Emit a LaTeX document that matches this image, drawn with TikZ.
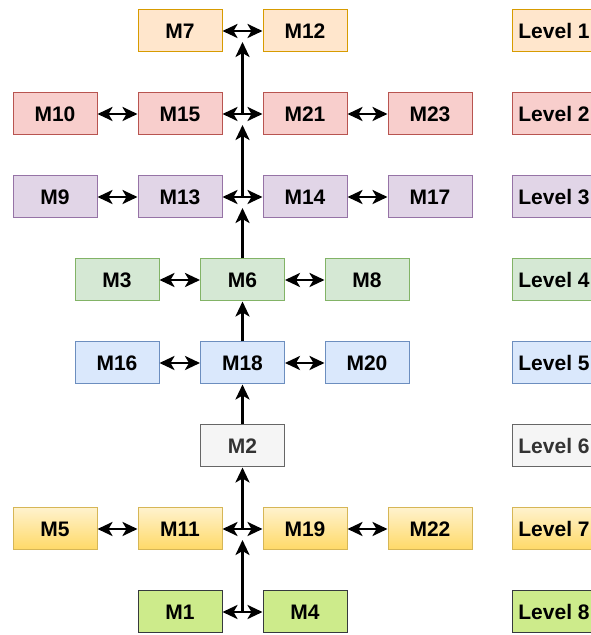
\documentclass[tikz,border=0pt]{standalone}
\usepackage{fontspec}
\setmainfont{Liberation Sans}
\usetikzlibrary{arrows.meta}

\definecolor{fillA}{HTML}{FFE6CC}\definecolor{lineA}{HTML}{D79B00}
\definecolor{fillB}{HTML}{F8CECC}\definecolor{lineB}{HTML}{B85450}
\definecolor{fillC}{HTML}{E1D5E7}\definecolor{lineC}{HTML}{9673A6}
\definecolor{fillD}{HTML}{D5E8D4}\definecolor{lineD}{HTML}{82B366}
\definecolor{fillE}{HTML}{DAE8FC}\definecolor{lineE}{HTML}{6C8EBF}
\definecolor{fillF}{HTML}{F5F5F5}\definecolor{lineF}{HTML}{666666}
\definecolor{textF}{HTML}{333333}
\definecolor{fillGtop}{HTML}{FFF2CC}\definecolor{fillGbot}{HTML}{FFD966}
\definecolor{lineG}{HTML}{D6B656}
\definecolor{fillH}{HTML}{CDEB8B}\definecolor{lineH}{HTML}{36393D}

\tikzset{
  module/.style={draw, line width=1pt, minimum width=84pt, minimum height=42pt,
    inner sep=0pt, font=\fontsize{21}{21}\selectfont\bfseries},
  lvone/.style={module, fill=fillA, draw=lineA},
  lvtwo/.style={module, fill=fillB, draw=lineB},
  lvthree/.style={module, fill=fillC, draw=lineC},
  lvfour/.style={module, fill=fillD, draw=lineD},
  lvfive/.style={module, fill=fillE, draw=lineE},
  lvsix/.style={module, fill=fillF, draw=lineF, text=textF},
  lvseven/.style={module, top color=fillGtop, bottom color=fillGbot, draw=lineG},
  lveight/.style={module, fill=fillH, draw=lineH},
  link/.style={line width=2.8pt,
    {Stealth[length=15pt, width=14pt, inset=4pt]}-{Stealth[length=15pt, width=14pt, inset=4pt]}},
  feed/.style={line width=2.8pt, -{Stealth[length=15pt, width=14pt, inset=4pt]}}
}

\begin{document}
\begin{tikzpicture}[x=1pt, y=1pt]
	\useasboundingbox (0,0) rectangle (590,635);
	% level 1
	\node[lvone] (m7) at (180,604) {M7};
	\node[lvone] (m12) at (305,604) {M12};
	\node[lvone] (lv1) at (554,604) {Level 1};
	\coordinate (j1) at (242.5,604);
	% level 2
	\node[lvtwo] (m10) at (55,521) {M10};
	\node[lvtwo] (m15) at (180,521) {M15};
	\node[lvtwo] (m21) at (305,521) {M21};
	\node[lvtwo] (m23) at (430,521) {M23};
	\node[lvtwo] (lv2) at (554,521) {Level 2};
	\coordinate (j2) at (242.5,521);
	% level 3
	\node[lvthree] (m9) at (55,438) {M9};
	\node[lvthree] (m13) at (180,438) {M13};
	\node[lvthree] (m14) at (305,438) {M14};
	\node[lvthree] (m17) at (430,438) {M17};
	\node[lvthree] (lv3) at (554,438) {Level 3};
	\coordinate (j3) at (242.5,438);
	% level 4
	\node[lvfour] (m3) at (117,355) {M3};
	\node[lvfour] (m6) at (242.5,355) {M6};
	\node[lvfour] (m8) at (367,355) {M8};
	\node[lvfour] (lv4) at (554,355) {Level 4};
	% level 5
	\node[lvfive] (m16) at (117,272) {M16};
	\node[lvfive] (m18) at (242.5,272) {M18};
	\node[lvfive] (m20) at (367,272) {M20};
	\node[lvfive] (lv5) at (554,272) {Level 5};
	% level 6
	\node[lvsix] (m2) at (242.5,189) {M2};
	\node[lvsix] (lv6) at (554,189) {Level 6};
	% level 7
	\node[lvseven] (m5) at (55,106) {M5};
	\node[lvseven] (m11) at (180,106) {M11};
	\node[lvseven] (m19) at (305,106) {M19};
	\node[lvseven] (m22) at (430,106) {M22};
	\node[lvseven] (lv7) at (554,106) {Level 7};
	\coordinate (j7) at (242.5,106);
	% level 8
	\node[lveight] (m1) at (180,23) {M1};
	\node[lveight] (m4) at (305,23) {M4};
	\node[lveight] (lv8) at (554,23) {Level 8};
	\coordinate (j8) at (242.5,23);

	% same level
	\draw[link] (m7) -- (m12);
	\draw[link] (m10) -- (m15); \draw[link] (m15) -- (m21); \draw[link] (m21) -- (m23);
	\draw[link] (m9) -- (m13); \draw[link] (m13) -- (m14); \draw[link] (m14) -- (m17);
	\draw[link] (m3) -- (m6); \draw[link] (m6) -- (m8);
	\draw[link] (m16) -- (m18); \draw[link] (m18) -- (m20);
	\draw[link] (m5) -- (m11); \draw[link] (m11) -- (m19); \draw[link] (m19) -- (m22);
	\draw[link] (m1) -- (m4);

	% upwards
	\draw[feed, shorten >=11pt] (j8) -- (j7);
	\draw[feed] (j7) -- (m2);
	\draw[feed] (m2) -- (m18);
	\draw[feed] (m18) -- (m6);
	\draw[feed, shorten >=11pt] (m6) -- (j3);
	\draw[feed, shorten >=11pt] (j3) -- (j2);
	\draw[feed, shorten >=11pt] (j2) -- (j1);
\end{tikzpicture}
\end{document}
